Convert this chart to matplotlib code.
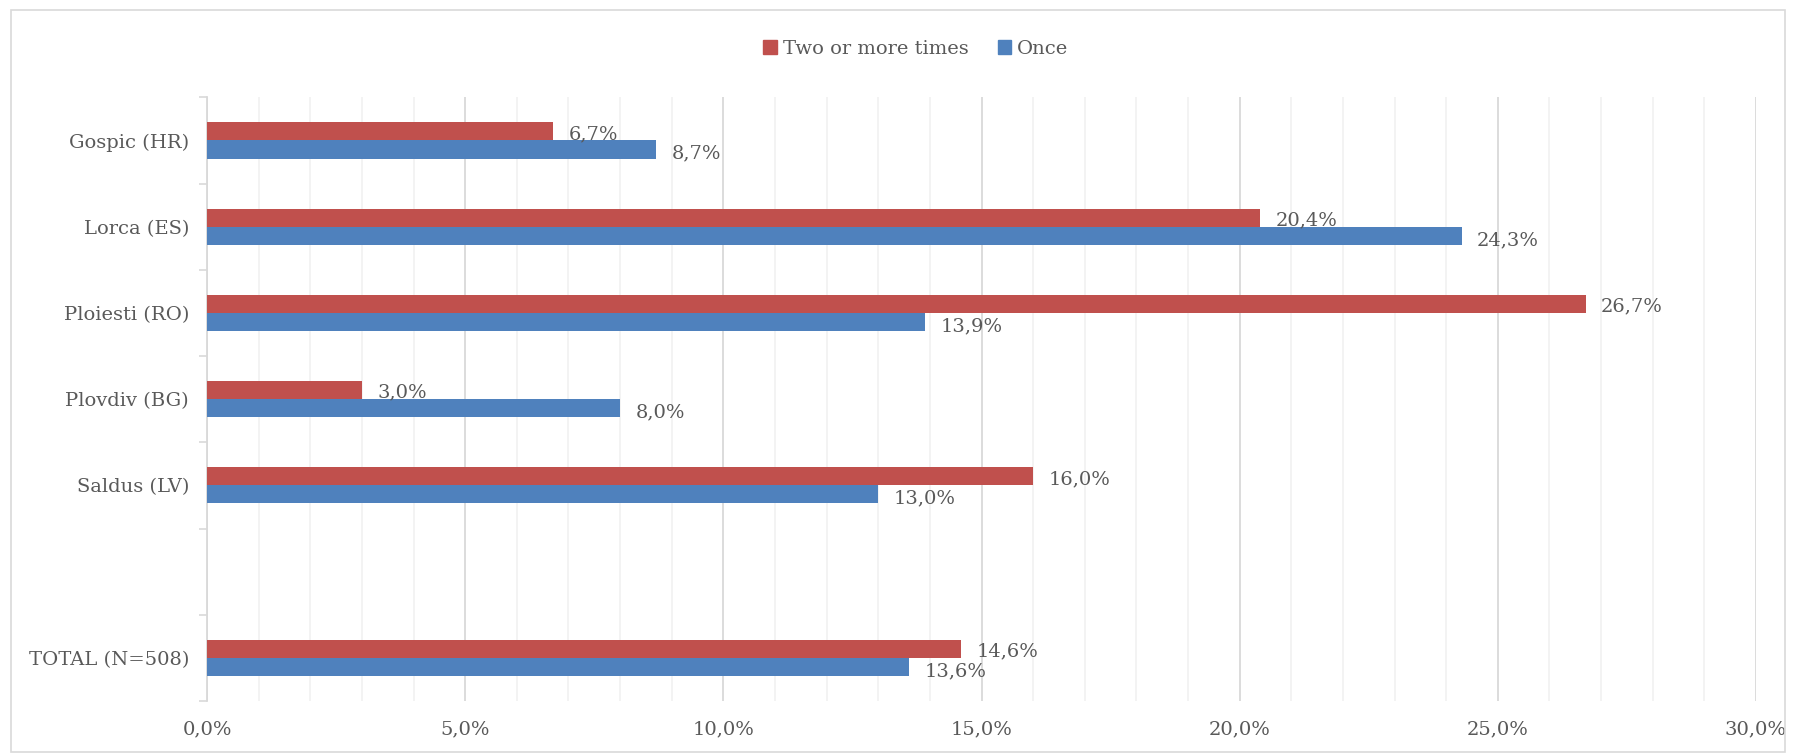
import matplotlib
matplotlib.use("Agg")
import matplotlib.pyplot as plt
from matplotlib.ticker import MultipleLocator, FuncFormatter
from matplotlib.patches import Rectangle

categories = ["Gospic (HR)", "Lorca (ES)", "Ploiesti (RO)", "Plovdiv (BG)", "Saldus (LV)", "", "TOTAL (N=508)"]
two_or_more = [6.7, 20.4, 26.7, 3.0, 16.0, None, 14.6]
once = [8.7, 24.3, 13.9, 8.0, 13.0, None, 13.6]
series_names = ["Two or more times", "Once"]
colors = ["#C0504D", "#4F81BD"]
text_color = "#595959"

plt.rcParams['font.family'] = ['DejaVu Serif']
fs = 14

fig = plt.figure(figsize=(17.96, 7.54), dpi=100)
ax = fig.add_axes([0.1153, 0.0703, 0.8624, 0.8007])

n = len(categories)
ypos = list(range(n))
bh = 0.21
for i in range(n):
    if two_or_more[i] is None:
        continue
    ax.barh(i - bh / 2, two_or_more[i], height=bh, color=colors[0], zorder=3)
    ax.barh(i + bh / 2, once[i], height=bh, color=colors[1], zorder=3)
    ax.text(two_or_more[i] + 0.3, i - bh / 2 + 0.03, f"{two_or_more[i]:.1f}%".replace(".", ","),
            va="center", ha="left", fontsize=fs, color=text_color, zorder=4)
    ax.text(once[i] + 0.3, i + bh / 2 + 0.05, f"{once[i]:.1f}%".replace(".", ","),
            va="center", ha="left", fontsize=fs, color=text_color, zorder=4)

ax.set_ylim(n - 0.5, -0.5)
ax.set_xlim(0, 30)
ax.set_yticks(ypos)
ax.set_yticklabels(categories)
ax.set_yticks([k - 0.5 for k in range(n + 1)], minor=True)
ax.tick_params(axis='y', which='major', length=0, pad=13, labelsize=fs, labelcolor=text_color)
ax.tick_params(axis='y', which='minor', length=6, color="#D9D9D9", width=1.2)

ax.xaxis.set_major_locator(MultipleLocator(5))
ax.xaxis.set_minor_locator(MultipleLocator(1))
ax.xaxis.set_major_formatter(FuncFormatter(lambda v, p: f"{v:.1f}%".replace(".", ",")))
ax.tick_params(axis='x', which='both', length=0, pad=14, labelsize=fs, labelcolor=text_color)
ax.grid(axis='x', which='major', color="#D9D9D9", linewidth=1.3, zorder=0)
ax.grid(axis='x', which='minor', color="#F0F0F0", linewidth=1.1, zorder=0)

for s in ["top", "right", "bottom"]:
    ax.spines[s].set_visible(False)
ax.spines["left"].set_color("#D9D9D9")
ax.spines["left"].set_linewidth(1.3)

handles = [Rectangle((0, 0), 1, 1, color=c) for c in colors]
fig.legend(handles, series_names, loc="center", bbox_to_anchor=(0.51, 0.935), ncol=2,
           frameon=False, fontsize=fs, labelcolor=text_color, handlelength=0.7,
           handleheight=0.7, handletextpad=0.3, columnspacing=1.5)

fig.patches.append(Rectangle((0.006, 0.003), 0.988, 0.984, transform=fig.transFigure,
                             fill=False, edgecolor="#D9D9D9", linewidth=1.2))

fig.savefig("out.png", dpi=100, facecolor="white")
